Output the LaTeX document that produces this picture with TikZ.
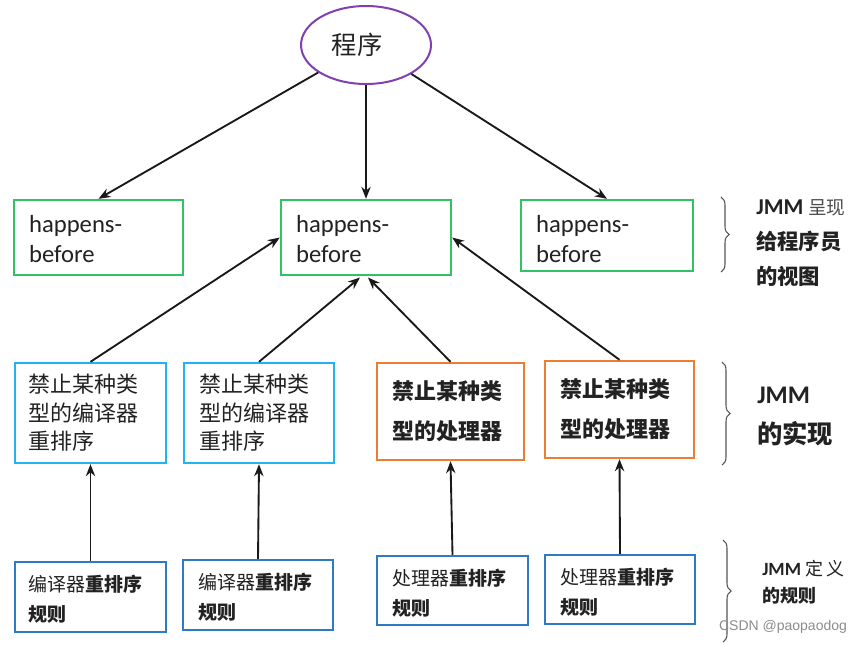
\documentclass[tikz,border=0pt]{standalone}
\usepackage{fontspec}
\setmainfont{Carlito}
\newfontfamily\cjk{Noto Sans CJK SC}
\newfontfamily\wmfont{Liberation Sans}
\usetikzlibrary{arrows.meta,decorations.pathreplacing,shapes.geometric}
\definecolor{gcol}{HTML}{33C166}
\definecolor{lbcol}{HTML}{22B4F0}
\definecolor{ocol}{HTML}{ED7D31}
\definecolor{dbcol}{HTML}{2E7BC4}
\definecolor{pcol}{HTML}{8040B0}
\definecolor{txtcol}{HTML}{222222}
\definecolor{brcol}{HTML}{555555}
\begin{document}
\begin{tikzpicture}[x=0.75pt,y=-0.75pt,
  box/.style={draw, line width=1.8pt, fill=white, inner sep=0pt},
  gbox/.style={box, draw=gcol},
  lbbox/.style={box, draw=lbcol},
  obox/.style={box, draw=ocol},
  dbbox/.style={box, draw=dbcol},
  txt/.style={anchor=west, align=left, inner sep=0pt, text=txtcol},
  hbtxt/.style={txt, font=\fontsize{18.5}{22.5}\selectfont},
  lbtxt/.style={txt, font=\cjk\fontsize{16.5}{21.4}\selectfont},
  otxt/.style={txt, font=\cjk\bfseries\fontsize{16.5}{30}\selectfont},
  rtxt/.style={txt, font=\cjk\fontsize{14.25}{22.5}\selectfont},
  arr/.style={-{Stealth[length=9pt,width=7pt]}, line width=1.4pt, black!90},
  brc/.style={decorate, decoration={brace, amplitude=6pt}, line width=0.8pt, draw=brcol},
  lab/.style={anchor=west, align=left, inner sep=0pt, text=txtcol}
]
\fill[white] (0,0) rectangle (862,644);
\useasboundingbox (0,0) rectangle (862,644);

% top ellipse
\node[ellipse, draw=pcol, line width=1.5pt, minimum width=97.5pt, minimum height=58.5pt, inner sep=0pt] (el) at (366,45) {};
\node[font=\cjk\fontsize{19}{22}\selectfont, text=txtcol, inner sep=0pt] (elt) at (357,45) {程序};

% green row
\node[gbox, minimum width=126.75pt, minimum height=56.25pt] (g1) at (98.5,237.5) {};
\node[gbox, minimum width=127.5pt, minimum height=56.25pt] (g2) at (366,237.5) {};
\node[gbox, minimum width=129pt, minimum height=53.25pt] (g3) at (607,235.5) {};
\node[hbtxt] (g1t) at ([xshift=12pt,yshift=-1.5pt]g1.west) {happens-\\before};
\node[hbtxt] (g2t) at ([xshift=12pt,yshift=-1.5pt]g2.west) {happens-\\before};
\node[hbtxt] (g3t) at ([xshift=12pt,yshift=-3pt]g3.west) {happens-\\before};

% middle row
\node[lbbox, minimum width=113.25pt, minimum height=75pt] (a) at (90.5,413) {};
\node[lbbox, minimum width=112.5pt, minimum height=75pt] (b) at (259,413) {};
\node[obox, minimum width=110.25pt, minimum height=72.75pt] (c) at (450.5,411.5) {};
\node[obox, minimum width=111.75pt, minimum height=72.75pt] (d) at (619.5,409.5) {};
\node[lbtxt] (at) at ([xshift=11pt]a.west) {禁止某种类\\型的编译器\\重排序};
\node[lbtxt] (bt) at ([xshift=12.5pt]b.west) {禁止某种类\\型的编译器\\重排序};
\node[otxt] (ct) at ([xshift=12.5pt]c.west) {禁止某种类\\型的处理器};
\node[otxt] (dt) at ([xshift=12.5pt]d.west) {禁止某种类\\型的处理器};

% bottom row
\node[dbbox, minimum width=113.25pt, minimum height=52.5pt] (e) at (90.5,597) {};
\node[dbbox, minimum width=112.5pt, minimum height=52.5pt] (f) at (258,595) {};
\node[dbbox, minimum width=113.25pt, minimum height=51.75pt] (g) at (452.5,590.5) {};
\node[dbbox, minimum width=112.5pt, minimum height=51.75pt] (h) at (620,589.5) {};
\node[rtxt] (et) at ([xshift=11pt,yshift=-2pt]e.west) {编译器{\bfseries 重排序}\\{\bfseries 规则}};
\node[rtxt] (ft) at ([xshift=12.5pt,yshift=-2pt]f.west) {编译器{\bfseries 重排序}\\{\bfseries 规则}};
\node[rtxt] (gt) at ([xshift=12pt,yshift=-2pt]g.west) {处理器{\bfseries 重排序}\\{\bfseries 规则}};
\node[rtxt] (ht) at ([xshift=12pt,yshift=-2pt]h.west) {处理器{\bfseries 重排序}\\{\bfseries 规则}};

% arrows from ellipse
\draw[arr] (el) -- (g1.north);
\draw[arr] (el.south) -- (g2.north);
\draw[arr] (el) -- (g3.north);

% arrows into g2
\coordinate (g2b1) at ([xshift=-4.5pt,yshift=-1pt]g2.south);
\coordinate (g2b2) at ([xshift=1.5pt,yshift=-1pt]g2.south);
\draw[arr] (a.north) -- (g2.west);
\draw[arr] (b.north) -- (g2b1);
\draw[arr] (c.north) -- (g2b2);
\draw[arr] (d.north) -- (g2.east);

% vertical arrows
\draw[arr] (e.north) -- (a.south);
\draw[arr] (f.north) -- (b.south);
\draw[arr] (g.north) -- (c.south);
\draw[arr] (h.north) -- (d.south);

% braces
\coordinate (br1a) at (721,197);
\coordinate (br1b) at (721,272);
\coordinate (br2a) at (722,362);
\coordinate (br2b) at (722,465);
\coordinate (br3a) at (723,540);
\coordinate (br3b) at (723,642);
\draw[brc] (br1a) -- (br1b);
\draw[brc] (br2a) -- (br2b);
\draw[brc] (br3a) -- (br3b);

% labels
\node[lab, font=\fontsize{16}{26.25}\selectfont] (l1) at (756,243)
  {{\bfseries\fontsize{17}{26.25}\selectfont JMM} {\cjk\fontsize{14}{26.25}\selectfont\color{black!70} 呈现}\\
   {\cjk\bfseries 给程序员}\\{\cjk\bfseries 的视图}};
\node[lab, font=\fontsize{19}{30}\selectfont] (l2) at (757,417)
  {{\bfseries JMM}\\{\cjk\bfseries 的实现}};
\node[lab, font=\fontsize{13.5}{20.5}\selectfont] (l3) at (762,582)
  {{\bfseries\fontsize{14}{20.5}\selectfont JMM} {\cjk 定\,义}\\{\cjk\bfseries 的规则}};

% watermark
\node[font=\wmfont\fontsize{10.5}{12}\selectfont, text=black!45, inner sep=0pt] (wm) at (783,627) {CSDN @paopaodog};
\end{tikzpicture}
\end{document}
